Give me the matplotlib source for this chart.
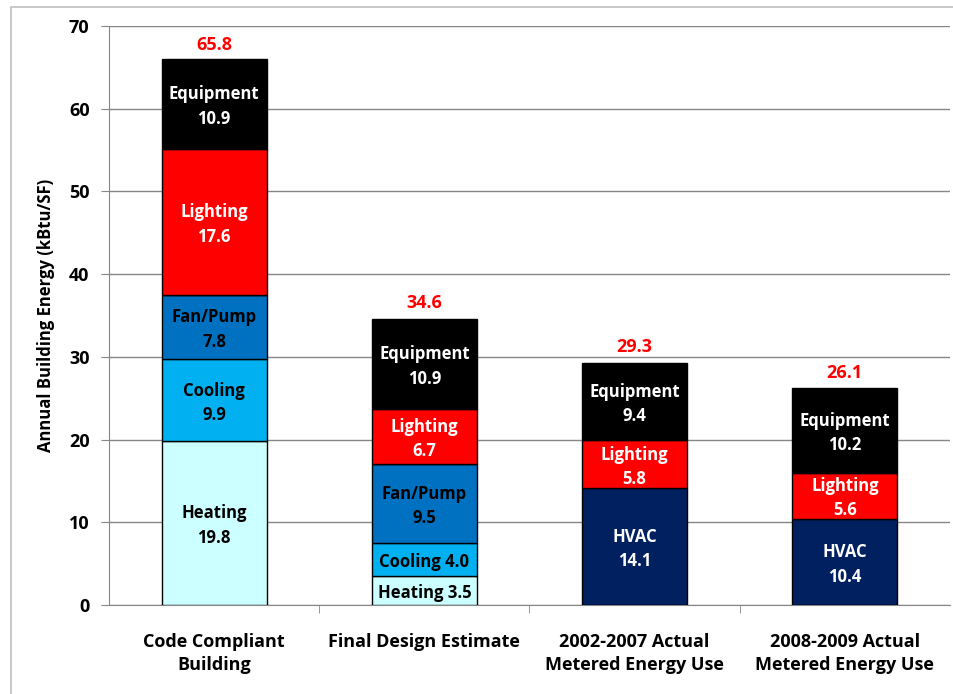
import matplotlib.pyplot as plt
from matplotlib.patches import Rectangle

plt.rcParams['font.family'] = ['Open Sans', 'DejaVu Sans']

# Data
categories = ['Code Compliant\nBuilding', 'Final Design Estimate',
              '2002-2007 Actual\nMetered Energy Use', '2008-2009 Actual\nMetered Energy Use']
heating = [19.8, 3.5, 0, 0]
cooling = [9.9, 4.0, 0, 0]
fan_pump = [7.8, 9.5, 0, 0]
hvac = [0, 0, 14.1, 10.4]
lighting = [17.6, 6.7, 5.8, 5.6]
equipment = [10.9, 10.9, 9.4, 10.2]
totals = [65.8, 34.6, 29.3, 26.1]

# stacking order bottom -> top: (name, values, face colour, text colour)
segments = [
    ('Heating', heating, '#CCFFFF', 'black'),
    ('Cooling', cooling, '#00B0F0', 'black'),
    ('Fan/Pump', fan_pump, '#0070C0', 'black'),
    ('HVAC', hvac, '#002060', 'white'),
    ('Lighting', lighting, '#FF0000', 'white'),
    ('Equipment', equipment, '#000000', 'white'),
]

fig = plt.figure(figsize=(9.54, 6.94), dpi=100)
ax = fig.add_axes([109 / 954, 1 - 605 / 694, (950 - 109) / 954, (605 - 26) / 694])

# outer chart border
fig.patches.append(Rectangle((11 / 954, -0.1), 1.2, 1 - 7 / 694 + 0.1, transform=fig.transFigure,
                             fill=False, edgecolor='#BFBFBF', lw=1.2))

x = range(len(categories))
bottom = [0] * len(categories)
for name, vals, color, tcolor in segments:
    ax.bar(x, vals, width=0.5, bottom=bottom, color=color, edgecolor='black', lw=1, zorder=3)
    for i, v in enumerate(vals):
        if v <= 0:
            continue
        if v < 5:
            txt = f'{name} {v:.1f}'
        else:
            txt = f'{name}\n{v:.1f}'
        ax.text(i, bottom[i] + v / 2 - 0.3, txt, ha='center', va='center', color=tcolor,
                fontsize=12, fontweight='bold', linespacing=1.45, zorder=4)
    bottom = [b + v for b, v in zip(bottom, vals)]

for i, t in enumerate(totals):
    ax.text(i, t + 0.8, f'{t:.1f}', ha='center', va='bottom', color='#FF0000',
            fontsize=13, fontweight='bold')

ax.set_xlim(-0.5, 3.5)
ax.set_ylim(0, 70)
ax.set_yticks(range(0, 71, 10))
ax.yaxis.grid(True, color='#868686', lw=1, zorder=0)
ax.set_axisbelow(True)
for s in ['top', 'right']:
    ax.spines[s].set_visible(False)
ax.spines['left'].set_color('#868686')
ax.spines['bottom'].set_color('#868686')
ax.tick_params(axis='y', direction='out', length=6, color='#868686', labelsize=13, pad=8)
ax.set_yticklabels([str(v) for v in range(0, 71, 10)], fontweight='bold')

ax.set_xticks([i - 0.5 for i in range(1, 4)], minor=True)
ax.set_xticks(list(x))
ax.set_xticklabels(categories, fontweight='bold', fontsize=13, linespacing=1.35)
ax.tick_params(axis='x', which='major', length=0, pad=20)
ax.tick_params(axis='x', which='minor', direction='out', length=6, color='#868686')

ax.set_ylabel('Annual Building Energy (kBtu/SF)', fontsize=12, fontweight='bold', labelpad=10)

fig.savefig('out.png', dpi=100)
